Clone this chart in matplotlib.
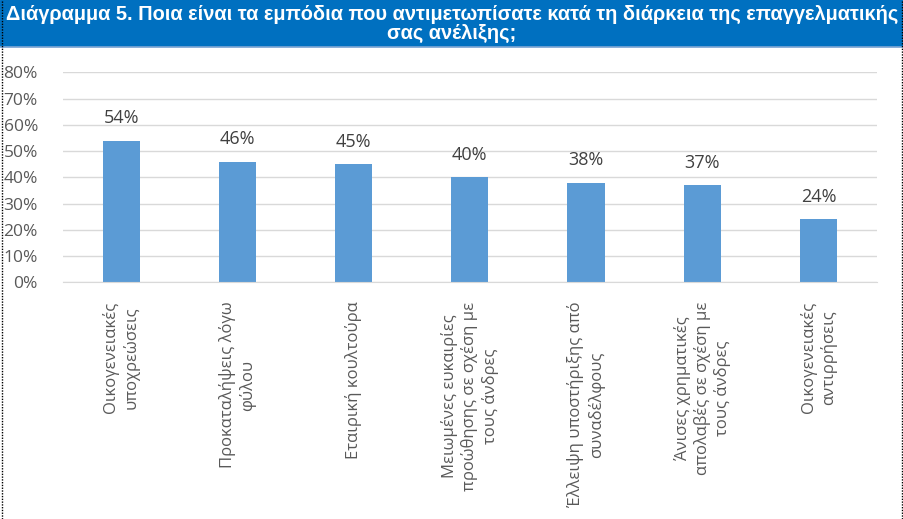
import matplotlib.pyplot as plt
from matplotlib.patches import Rectangle
from matplotlib.lines import Line2D
from matplotlib.ticker import PercentFormatter

title = ("Διάγραμμα 5. Ποια είναι τα εμπόδια που αντιμετωπίσατε κατά τη διάρκεια της επαγγελματικής\n"
         "σας ανέλιξης;")

categories = [
    "Οικογενειακές\nυποχρεώσεις",
    "Προκαταλήψεις λόγω\nφύλου",
    "Εταιρική κουλτούρα",
    "Μειωμένες ευκαιρίες\nπροώθησης σε σχέση με\nτους άνδρες",
    "Έλλειψη υποστήριξης από\nσυναδέλφους",
    "Άνισες χρηματικές\nαπολαβές σε σχέση με\nτους άνδρες",
    "Οικογενειακές\nαντιρρήσεις",
]
values = [54, 46, 45, 40, 38, 37, 24]

plt.rcParams['font.family'] = ['Open Sans', 'DejaVu Sans']

fig = plt.figure(figsize=(9.04, 5.19), dpi=100)
W, H = 904, 519

# blue title band
fig.patches.append(Rectangle((0, 1 - 46 / H), 1, 46 / H, transform=fig.transFigure,
                             color='#0070C0', zorder=0))
fig.lines.append(Line2D([0, 1], [1 - 47 / H, 1 - 47 / H], transform=fig.transFigure,
                        color='#7FA7D4', lw=1.2))
fig.text(0.5, 1 - 24 / H, title, ha='center', va='center', color='white',
         fontsize=14.4, fontweight='bold', family=['Liberation Sans', 'DejaVu Sans'],
         linespacing=1.05)

# dotted frame left / right
for xp in [2 / W, 902 / W]:
    fig.lines.append(Line2D([xp, xp], [0, 1], transform=fig.transFigure,
                            color='black', lw=1, ls=(0, (1, 1))))

ax = fig.add_axes([63 / W, 1 - 282.3 / H, (876.7 - 63) / W, (282.3 - 72.3) / H])
x = range(len(categories))
ax.bar(x, values, width=0.32, color='#5B9BD5', zorder=2)
for xi, v in zip(x, values):
    ax.text(xi, v + 5, f"{v}%", ha='center', va='bottom', fontsize=13, color='#404040')

ax.set_xlim(-0.5, len(categories) - 0.5)
ax.set_ylim(0, 80)
ax.set_yticks(range(0, 81, 10))
ax.yaxis.set_major_formatter(PercentFormatter(decimals=0))
ax.grid(axis='y', color='#D9D9D9', lw=1, zorder=0)
ax.set_axisbelow(True)
for s in ['top', 'right', 'left']:
    ax.spines[s].set_visible(False)
ax.spines['bottom'].set_color('#D9D9D9')
ax.tick_params(axis='both', length=0, colors='#595959', labelsize=12.5)
ax.tick_params(axis='y', pad=18)
ax.set_xticks(list(x))
ax.set_xticklabels(categories, rotation=90, ha='center', va='top',
                   multialignment='center', fontsize=12, linespacing=1.25)
ax.tick_params(axis='x', pad=14)

fig.savefig('out.png', dpi=100)
